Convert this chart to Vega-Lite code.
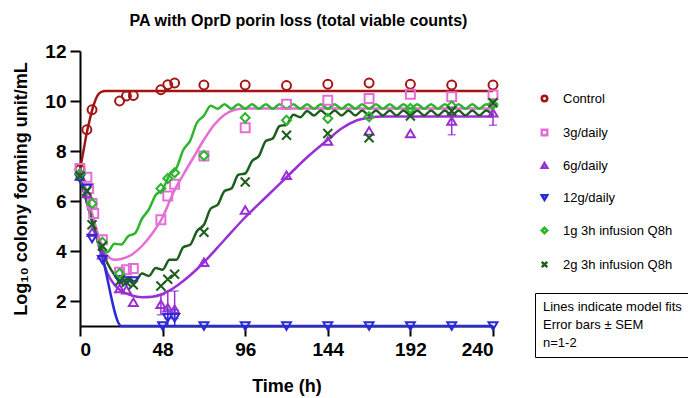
{
 "$schema": "https://vega.github.io/schema/vega-lite/v6.json",
 "width": 413,
 "height": 275,
 "autosize": {"type": "none"},
 "padding": {"left": 80, "top": 51, "right": 195, "bottom": 72},
 "background": "white",
 "title": {"text": "PA with OprD porin loss (total viable counts)", "font": "Liberation Sans", "fontSize": 16, "fontWeight": "bold", "color": "black", "anchor": "middle", "offset": 13, "dx": 12},
 "config": {
  "view": {"stroke": null},
  "axis": {"domainColor": "black", "domainWidth": 2, "tickColor": "black", "tickWidth": 2, "tickSize": 10, "labelFont": "Liberation Sans", "labelFontWeight": "bold", "labelFontSize": 19, "labelColor": "black", "titleFont": "Liberation Sans", "titleFontWeight": "bold", "titleColor": "black", "grid": false},
  "legend": {"labelFont": "Liberation Sans", "labelFontSize": 13, "labelColor": "black"}
 },
 "datasets": {
  "pts": [
   {"g":"Control","t":0,"v":7.25},{"g":"Control","t":4,"v":8.85},{"g":"Control","t":7,"v":9.65},{"g":"Control","t":23,"v":10.0},{"g":"Control","t":27,"v":10.2},{"g":"Control","t":31,"v":10.22},{"g":"Control","t":47,"v":10.45},{"g":"Control","t":51,"v":10.65},{"g":"Control","t":55,"v":10.72},{"g":"Control","t":72,"v":10.64},{"g":"Control","t":96,"v":10.64},{"g":"Control","t":120,"v":10.62},{"g":"Control","t":144,"v":10.67},{"g":"Control","t":168,"v":10.72},{"g":"Control","t":192,"v":10.67},{"g":"Control","t":216,"v":10.64},{"g":"Control","t":240,"v":10.64},
   {"g":"3g/daily","t":0,"v":7.3},{"g":"3g/daily","t":4,"v":6.95},{"g":"3g/daily","t":5,"v":6.5},{"g":"3g/daily","t":7,"v":5.9},{"g":"3g/daily","t":8,"v":5.5},{"g":"3g/daily","t":13,"v":4.45},{"g":"3g/daily","t":23,"v":3.15},{"g":"3g/daily","t":27,"v":3.25},{"g":"3g/daily","t":31,"v":3.3},{"g":"3g/daily","t":47,"v":5.25},{"g":"3g/daily","t":51,"v":6.2},{"g":"3g/daily","t":55,"v":6.67},{"g":"3g/daily","t":72,"v":7.8},{"g":"3g/daily","t":96,"v":8.93},{"g":"3g/daily","t":120,"v":9.87},{"g":"3g/daily","t":144,"v":10.03},{"g":"3g/daily","t":168,"v":10.1},{"g":"3g/daily","t":192,"v":10.27},{"g":"3g/daily","t":216,"v":10.17},{"g":"3g/daily","t":240,"v":10.24},
   {"g":"6g/daily","t":0,"v":7.0},{"g":"6g/daily","t":4,"v":6.3},{"g":"6g/daily","t":7,"v":4.75},{"g":"6g/daily","t":13,"v":3.85},{"g":"6g/daily","t":23,"v":2.5},{"g":"6g/daily","t":27,"v":2.45},{"g":"6g/daily","t":31,"v":1.95},{"g":"6g/daily","t":47,"v":1.87},{"g":"6g/daily","t":51,"v":1.73},{"g":"6g/daily","t":55,"v":1.67},{"g":"6g/daily","t":72,"v":3.55},{"g":"6g/daily","t":96,"v":5.64},{"g":"6g/daily","t":120,"v":7.03},{"g":"6g/daily","t":144,"v":8.4},{"g":"6g/daily","t":168,"v":8.8},{"g":"6g/daily","t":192,"v":8.7},{"g":"6g/daily","t":216,"v":9.2},{"g":"6g/daily","t":240,"v":9.53},
   {"g":"12g/daily","t":0,"v":6.9},{"g":"12g/daily","t":4,"v":6.5},{"g":"12g/daily","t":7,"v":4.5},{"g":"12g/daily","t":13,"v":3.65},{"g":"12g/daily","t":23,"v":2.85},{"g":"12g/daily","t":27,"v":2.8},{"g":"12g/daily","t":31,"v":2.8},{"g":"12g/daily","t":48,"v":1.0},{"g":"12g/daily","t":51,"v":1.33},{"g":"12g/daily","t":55,"v":1.33},{"g":"12g/daily","t":72,"v":1.0},{"g":"12g/daily","t":96,"v":1.0},{"g":"12g/daily","t":120,"v":1.0},{"g":"12g/daily","t":144,"v":1.0},{"g":"12g/daily","t":168,"v":1.0},{"g":"12g/daily","t":192,"v":1.0},{"g":"12g/daily","t":216,"v":1.0},{"g":"12g/daily","t":240,"v":1.0},
   {"g":"1g 3h infusion Q8h","t":0,"v":7.1},{"g":"1g 3h infusion Q8h","t":7,"v":5.9},{"g":"1g 3h infusion Q8h","t":13,"v":4.35},{"g":"1g 3h infusion Q8h","t":23,"v":3.1},{"g":"1g 3h infusion Q8h","t":47,"v":6.5},{"g":"1g 3h infusion Q8h","t":51,"v":6.9},{"g":"1g 3h infusion Q8h","t":55,"v":7.13},{"g":"1g 3h infusion Q8h","t":72,"v":7.82},{"g":"1g 3h infusion Q8h","t":96,"v":9.33},{"g":"1g 3h infusion Q8h","t":120,"v":9.23},{"g":"1g 3h infusion Q8h","t":144,"v":9.3},{"g":"1g 3h infusion Q8h","t":168,"v":9.37},{"g":"1g 3h infusion Q8h","t":192,"v":9.7},{"g":"1g 3h infusion Q8h","t":216,"v":9.8},{"g":"1g 3h infusion Q8h","t":240,"v":9.87},
   {"g":"2g 3h infusion Q8h","t":0,"v":7.0},{"g":"2g 3h infusion Q8h","t":4,"v":6.4},{"g":"2g 3h infusion Q8h","t":7,"v":5.05},{"g":"2g 3h infusion Q8h","t":13,"v":4.2},{"g":"2g 3h infusion Q8h","t":23,"v":2.8},{"g":"2g 3h infusion Q8h","t":27,"v":2.75},{"g":"2g 3h infusion Q8h","t":31,"v":2.65},{"g":"2g 3h infusion Q8h","t":47,"v":2.6},{"g":"2g 3h infusion Q8h","t":51,"v":2.87},{"g":"2g 3h infusion Q8h","t":55,"v":3.07},{"g":"2g 3h infusion Q8h","t":72,"v":4.75},{"g":"2g 3h infusion Q8h","t":96,"v":6.76},{"g":"2g 3h infusion Q8h","t":120,"v":8.63},{"g":"2g 3h infusion Q8h","t":144,"v":8.7},{"g":"2g 3h infusion Q8h","t":168,"v":8.53},{"g":"2g 3h infusion Q8h","t":192,"v":9.4},{"g":"2g 3h infusion Q8h","t":216,"v":9.6},{"g":"2g 3h infusion Q8h","t":240,"v":9.93}
  ],
  "err": [
   {"g":"6g/daily","t":216,"lo":8.65,"hi":9.75},{"g":"6g/daily","t":240,"lo":9.03,"hi":10.07},{"g":"6g/daily","t":47,"lo":1.45,"hi":2.25},{"g":"6g/daily","t":51,"lo":1.3,"hi":2.4},{"g":"6g/daily","t":55,"lo":1.3,"hi":2.4},{"g":"12g/daily","t":51,"lo":1.0,"hi":1.65},{"g":"12g/daily","t":55,"lo":1.0,"hi":1.65}
  ],
  "fit": [
   {"g":"Control","t":0,"v":7.25},{"g":"Control","t":2,"v":8.0},{"g":"Control","t":4,"v":8.75},{"g":"Control","t":6,"v":9.35},{"g":"Control","t":8,"v":9.85},{"g":"Control","t":10,"v":10.2},{"g":"Control","t":12,"v":10.35},{"g":"Control","t":15,"v":10.4},{"g":"Control","t":240,"v":10.4},
   {"g":"3g/daily","t":0,"v":7.3},{"g":"3g/daily","t":4,"v":6.3},{"g":"3g/daily","t":8,"v":5.25},{"g":"3g/daily","t":12,"v":4.35},{"g":"3g/daily","t":16,"v":3.8},{"g":"3g/daily","t":20,"v":3.65},{"g":"3g/daily","t":24,"v":3.68},{"g":"3g/daily","t":30,"v":3.85},{"g":"3g/daily","t":36,"v":4.2},{"g":"3g/daily","t":42,"v":4.7},{"g":"3g/daily","t":48,"v":5.35},{"g":"3g/daily","t":54,"v":6.3},{"g":"3g/daily","t":60,"v":7.05},{"g":"3g/daily","t":66,"v":7.75},{"g":"3g/daily","t":72,"v":8.45},{"g":"3g/daily","t":78,"v":9.05},{"g":"3g/daily","t":84,"v":9.45},{"g":"3g/daily","t":90,"v":9.65},{"g":"3g/daily","t":96,"v":9.7},{"g":"3g/daily","t":240,"v":9.7},
   {"g":"6g/daily","t":0,"v":7.0},{"g":"6g/daily","t":4,"v":6.0},{"g":"6g/daily","t":8,"v":4.95},{"g":"6g/daily","t":12,"v":3.95},{"g":"6g/daily","t":16,"v":3.1},{"g":"6g/daily","t":20,"v":2.65},{"g":"6g/daily","t":24,"v":2.4},{"g":"6g/daily","t":30,"v":2.22},{"g":"6g/daily","t":36,"v":2.15},{"g":"6g/daily","t":42,"v":2.17},{"g":"6g/daily","t":48,"v":2.28},{"g":"6g/daily","t":54,"v":2.5},{"g":"6g/daily","t":60,"v":2.8},{"g":"6g/daily","t":66,"v":3.15},{"g":"6g/daily","t":72,"v":3.55},{"g":"6g/daily","t":84,"v":4.45},{"g":"6g/daily","t":96,"v":5.35},{"g":"6g/daily","t":108,"v":6.15},{"g":"6g/daily","t":120,"v":6.95},{"g":"6g/daily","t":132,"v":7.75},{"g":"6g/daily","t":144,"v":8.45},{"g":"6g/daily","t":152,"v":8.9},{"g":"6g/daily","t":160,"v":9.2},{"g":"6g/daily","t":168,"v":9.33},{"g":"6g/daily","t":176,"v":9.38},{"g":"6g/daily","t":240,"v":9.38},
   {"g":"12g/daily","t":0,"v":6.9},{"g":"12g/daily","t":13,"v":3.75},{"g":"12g/daily","t":24,"v":1.0},{"g":"12g/daily","t":240,"v":1.0},
   {"g":"1g 3h infusion Q8h","t":0,"v":7.1},{"g":"1g 3h infusion Q8h","t":4,"v":6.0},{"g":"1g 3h infusion Q8h","t":8,"v":5.0},{"g":"1g 3h infusion Q8h","t":12,"v":4.1},{"g":"1g 3h infusion Q8h","t":16,"v":3.96},{"g":"1g 3h infusion Q8h","t":20,"v":4.29},{"g":"1g 3h infusion Q8h","t":24,"v":4.26},{"g":"1g 3h infusion Q8h","t":28,"v":4.59},{"g":"1g 3h infusion Q8h","t":32,"v":4.71},{"g":"1g 3h infusion Q8h","t":36,"v":5.29},{"g":"1g 3h infusion Q8h","t":40,"v":5.66},{"g":"1g 3h infusion Q8h","t":44,"v":6.24},{"g":"1g 3h infusion Q8h","t":48,"v":6.46},{"g":"1g 3h infusion Q8h","t":52,"v":7.04},{"g":"1g 3h infusion Q8h","t":56,"v":7.31},{"g":"1g 3h infusion Q8h","t":60,"v":8.04},{"g":"1g 3h infusion Q8h","t":64,"v":8.41},{"g":"1g 3h infusion Q8h","t":68,"v":9.14},{"g":"1g 3h infusion Q8h","t":72,"v":9.41},{"g":"1g 3h infusion Q8h","t":76,"v":9.81},{"g":"1g 3h infusion Q8h","t":80,"v":9.69},{"g":"1g 3h infusion Q8h","t":84,"v":9.87},{"g":"1g 3h infusion Q8h","t":88,"v":9.69},{"g":"1g 3h infusion Q8h","t":92,"v":9.87},{"g":"1g 3h infusion Q8h","t":96,"v":9.69},{"g":"1g 3h infusion Q8h","t":100,"v":9.87},{"g":"1g 3h infusion Q8h","t":104,"v":9.69},{"g":"1g 3h infusion Q8h","t":108,"v":9.87},{"g":"1g 3h infusion Q8h","t":112,"v":9.69},{"g":"1g 3h infusion Q8h","t":116,"v":9.87},{"g":"1g 3h infusion Q8h","t":120,"v":9.69},{"g":"1g 3h infusion Q8h","t":124,"v":9.87},{"g":"1g 3h infusion Q8h","t":128,"v":9.69},{"g":"1g 3h infusion Q8h","t":132,"v":9.87},{"g":"1g 3h infusion Q8h","t":136,"v":9.69},{"g":"1g 3h infusion Q8h","t":140,"v":9.87},{"g":"1g 3h infusion Q8h","t":144,"v":9.69},{"g":"1g 3h infusion Q8h","t":148,"v":9.87},{"g":"1g 3h infusion Q8h","t":152,"v":9.69},{"g":"1g 3h infusion Q8h","t":156,"v":9.87},{"g":"1g 3h infusion Q8h","t":160,"v":9.69},{"g":"1g 3h infusion Q8h","t":164,"v":9.87},{"g":"1g 3h infusion Q8h","t":168,"v":9.69},{"g":"1g 3h infusion Q8h","t":172,"v":9.87},{"g":"1g 3h infusion Q8h","t":176,"v":9.69},{"g":"1g 3h infusion Q8h","t":180,"v":9.87},{"g":"1g 3h infusion Q8h","t":184,"v":9.69},{"g":"1g 3h infusion Q8h","t":188,"v":9.87},{"g":"1g 3h infusion Q8h","t":192,"v":9.69},{"g":"1g 3h infusion Q8h","t":196,"v":9.87},{"g":"1g 3h infusion Q8h","t":200,"v":9.69},{"g":"1g 3h infusion Q8h","t":204,"v":9.87},{"g":"1g 3h infusion Q8h","t":208,"v":9.69},{"g":"1g 3h infusion Q8h","t":212,"v":9.87},{"g":"1g 3h infusion Q8h","t":216,"v":9.69},{"g":"1g 3h infusion Q8h","t":220,"v":9.87},{"g":"1g 3h infusion Q8h","t":224,"v":9.69},{"g":"1g 3h infusion Q8h","t":228,"v":9.87},{"g":"1g 3h infusion Q8h","t":232,"v":9.69},{"g":"1g 3h infusion Q8h","t":236,"v":9.87},{"g":"1g 3h infusion Q8h","t":240,"v":9.69},
   {"g":"2g 3h infusion Q8h","t":0,"v":7.0},{"g":"2g 3h infusion Q8h","t":4,"v":5.95},{"g":"2g 3h infusion Q8h","t":8,"v":4.95},{"g":"2g 3h infusion Q8h","t":12,"v":4.15},{"g":"2g 3h infusion Q8h","t":16,"v":3.5},{"g":"2g 3h infusion Q8h","t":20,"v":3.05},{"g":"2g 3h infusion Q8h","t":24,"v":2.75},{"g":"2g 3h infusion Q8h","t":28,"v":2.9},{"g":"2g 3h infusion Q8h","t":32,"v":2.78},{"g":"2g 3h infusion Q8h","t":36,"v":3.1},{"g":"2g 3h infusion Q8h","t":40,"v":3.0},{"g":"2g 3h infusion Q8h","t":44,"v":3.32},{"g":"2g 3h infusion Q8h","t":48,"v":3.25},{"g":"2g 3h infusion Q8h","t":52,"v":3.65},{"g":"2g 3h infusion Q8h","t":56,"v":3.65},{"g":"2g 3h infusion Q8h","t":60,"v":4.15},{"g":"2g 3h infusion Q8h","t":64,"v":4.25},{"g":"2g 3h infusion Q8h","t":68,"v":4.8},{"g":"2g 3h infusion Q8h","t":72,"v":5.05},{"g":"2g 3h infusion Q8h","t":76,"v":5.7},{"g":"2g 3h infusion Q8h","t":80,"v":5.85},{"g":"2g 3h infusion Q8h","t":84,"v":6.4},{"g":"2g 3h infusion Q8h","t":88,"v":6.5},{"g":"2g 3h infusion Q8h","t":92,"v":7.05},{"g":"2g 3h infusion Q8h","t":96,"v":7.1},{"g":"2g 3h infusion Q8h","t":100,"v":7.6},{"g":"2g 3h infusion Q8h","t":104,"v":7.8},{"g":"2g 3h infusion Q8h","t":108,"v":8.4},{"g":"2g 3h infusion Q8h","t":112,"v":8.5},{"g":"2g 3h infusion Q8h","t":116,"v":9.0},{"g":"2g 3h infusion Q8h","t":120,"v":9.05},{"g":"2g 3h infusion Q8h","t":124,"v":9.45},{"g":"2g 3h infusion Q8h","t":128,"v":9.35},{"g":"2g 3h infusion Q8h","t":132,"v":9.6},{"g":"2g 3h infusion Q8h","t":136,"v":9.42},{"g":"2g 3h infusion Q8h","t":140,"v":9.62},{"g":"2g 3h infusion Q8h","t":144,"v":9.42},{"g":"2g 3h infusion Q8h","t":148,"v":9.62},{"g":"2g 3h infusion Q8h","t":152,"v":9.42},{"g":"2g 3h infusion Q8h","t":156,"v":9.62},{"g":"2g 3h infusion Q8h","t":160,"v":9.42},{"g":"2g 3h infusion Q8h","t":164,"v":9.62},{"g":"2g 3h infusion Q8h","t":168,"v":9.42},{"g":"2g 3h infusion Q8h","t":172,"v":9.62},{"g":"2g 3h infusion Q8h","t":176,"v":9.42},{"g":"2g 3h infusion Q8h","t":180,"v":9.62},{"g":"2g 3h infusion Q8h","t":184,"v":9.42},{"g":"2g 3h infusion Q8h","t":188,"v":9.62},{"g":"2g 3h infusion Q8h","t":192,"v":9.42},{"g":"2g 3h infusion Q8h","t":196,"v":9.62},{"g":"2g 3h infusion Q8h","t":200,"v":9.42},{"g":"2g 3h infusion Q8h","t":204,"v":9.62},{"g":"2g 3h infusion Q8h","t":208,"v":9.42},{"g":"2g 3h infusion Q8h","t":212,"v":9.62},{"g":"2g 3h infusion Q8h","t":216,"v":9.42},{"g":"2g 3h infusion Q8h","t":220,"v":9.62},{"g":"2g 3h infusion Q8h","t":224,"v":9.42},{"g":"2g 3h infusion Q8h","t":228,"v":9.62},{"g":"2g 3h infusion Q8h","t":232,"v":9.42},{"g":"2g 3h infusion Q8h","t":236,"v":9.62},{"g":"2g 3h infusion Q8h","t":240,"v":9.42}
  ],
  "notes": [{"note":"Lines indicate model fits"},{"note":"Error bars ± SEM"},{"note":"n=1-2"}]
 },
 "encoding": {
  "x": {"field": "t", "type": "quantitative", "scale": {"domain": [0, 240], "nice": false, "zero": false}, "axis": {"values": [0, 48, 96, 144, 192, 240], "title": "Time (h)", "titleFontSize": 18, "labelPadding": 4, "titlePadding": 18}},
  "y": {"field": "v", "type": "quantitative", "scale": {"domain": [1, 12], "nice": false, "zero": false}, "axis": {"values": [2, 4, 6, 8, 10, 12], "title": "Log₁₀ colony forming unit/mL", "titleFontSize": 18, "labelPadding": 4, "titlePadding": 14}}
 },
 "layer": [
  {
   "data": {"name": "fit"},
   "mark": {"type": "line", "interpolate": "monotone", "strokeWidth": 2.5},
   "encoding": {
    "color": {"field": "g", "type": "nominal", "scale": {"domain": ["Control", "3g/daily", "6g/daily", "12g/daily", "1g 3h infusion Q8h", "2g 3h infusion Q8h"], "range": ["#A31515", "#E46ED6", "#9A2FD4", "#2A2AD8", "#2DB52D", "#1D5E1D"]}, "legend": {"title": null, "orient": "none", "legendX": 458, "legendY": 41, "symbolSize": 30, "symbolStrokeWidth": 2.5, "rowPadding": 17, "labelOffset": 12}}
   }
  },
  {
   "data": {"name": "err"},
   "transform": [{"filter": "datum.g == '6g/daily'"}],
   "mark": {"type": "errorbar", "ticks": {"size": 8}, "thickness": 1.5, "color": "#9A2FD4"},
   "encoding": {
    "y": {"field": "lo", "type": "quantitative"},
    "y2": {"field": "hi"}
   }
  },
  {
   "data": {"name": "err"},
   "transform": [{"filter": "datum.g == '12g/daily'"}],
   "mark": {"type": "errorbar", "ticks": {"size": 8}, "thickness": 1.5, "color": "#2A2AD8"},
   "encoding": {
    "y": {"field": "lo", "type": "quantitative"},
    "y2": {"field": "hi"}
   }
  },
  {
   "data": {"name": "pts"},
   "mark": {"type": "point", "filled": false, "strokeWidth": 2, "size": 80, "opacity": 1},
   "encoding": {
    "color": {"field": "g", "type": "nominal", "legend": {"title": null, "orient": "none", "legendX": 458, "legendY": 41, "symbolSize": 30, "symbolStrokeWidth": 2.5, "rowPadding": 17, "labelOffset": 12}},
    "shape": {"field": "g", "type": "nominal", "scale": {"domain": ["Control", "3g/daily", "6g/daily", "12g/daily", "1g 3h infusion Q8h", "2g 3h infusion Q8h"], "range": ["circle", "square", "triangle-up", "triangle-down", "diamond", "M-1,-1L1,1M-1,1L1,-1"]}, "legend": {"title": null, "orient": "none", "legendX": 458, "legendY": 41, "symbolSize": 30, "symbolStrokeWidth": 2.5, "rowPadding": 17, "labelOffset": 12}}
   }
  },
  {
   "data": {"name": "notes"},
   "mark": {"type": "point", "opacity": 0},
   "encoding": {
    "x": null, "y": null,
    "strokeDash": {"field": "note", "type": "nominal", "scale": {"domain": ["Lines indicate model fits", "Error bars ± SEM", "n=1-2"]}, "legend": {"title": null, "orient": "none", "legendX": 455, "legendY": 242, "strokeColor": "black", "fillColor": "white", "padding": 7, "symbolOpacity": 0, "symbolSize": 0, "symbolStrokeWidth": 0, "labelOffset": -12, "rowPadding": 4}}
   }
  }
 ]
}
